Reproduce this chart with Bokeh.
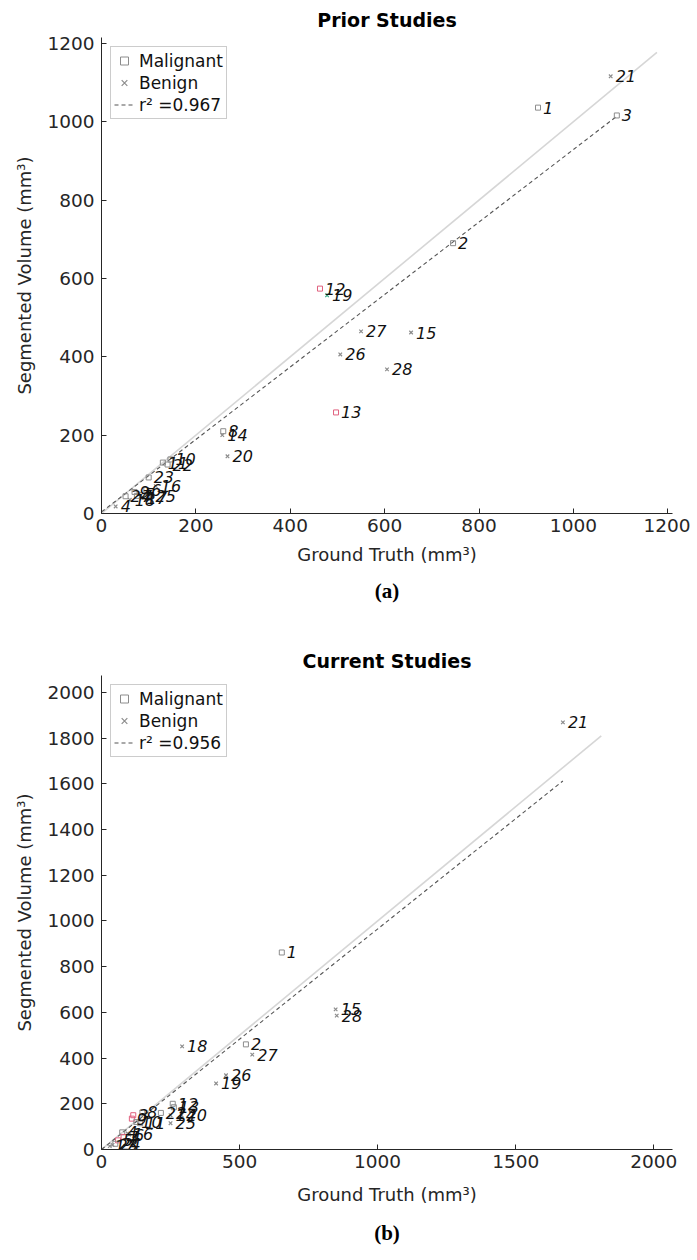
from bokeh.plotting import figure
from bokeh.models import ColumnDataSource, Title, Legend, LegendItem, Range1d, FixedTicker
from bokeh.layouts import column
from bokeh.embed import file_html
from bokeh.resources import INLINE
from bokeh.core.properties import value

# ---------------- (a) Prior Studies ----------------
a_ids = ["1", "2", "3", "4", "5", "6", "7", "8", "9", "10", "11", "12", "13", "14",
         "15", "16", "17", "18", "19", "20", "21", "22", "23", "24", "25", "26", "27", "28"]
a_gt = [925, 745, 1092, 30, 80, 95, 75, 258, 70, 146, 130, 463, 497, 256,
        656, 115, 85, 60, 478, 267, 1079, 140, 100, 51, 104, 506, 550, 605]
a_seg = [1036, 690, 1016, 18, 50, 60, 45, 210, 55, 138, 130, 574, 258, 200,
         462, 70, 40, 35, 557, 146, 1116, 125, 92, 44, 44, 406, 465, 368]
a_type = ["M", "M", "M", "B", "B", "M", "M", "M", "M", "M", "M", "M", "M", "B",
          "B", "B", "B", "B", "B", "B", "B", "M", "M", "M", "B", "B", "B", "B"]
a_col = ["#8c8c8c", "#8c8c8c", "#8c8c8c", "#8c8c8c", "#8c8c8c", "#8c8c8c", "#8c8c8c",
         "#8c8c8c", "#8c8c8c", "#8c8c8c", "#8c8c8c", "#e0607e", "#e0607e", "#8c8c8c",
         "#8c8c8c", "#8c8c8c", "#8c8c8c", "#8c8c8c", "#3cae8c", "#8c8c8c", "#8c8c8c",
         "#8c8c8c", "#8c8c8c", "#8c8c8c", "#8c8c8c", "#8c8c8c", "#8c8c8c", "#8c8c8c"]
a_fit = (0.925, 4.0)          # slope, intercept of dashed fit
a_r2 = "0.967"
a_ident_max = 1177
a_xticks = [0, 200, 400, 600, 800, 1000, 1200]
a_yticks = [0, 200, 400, 600, 800, 1000, 1200]
a_xmax, a_ymax = 1210, 1215

# ---------------- (b) Current Studies ----------------
b_ids = ["1", "2", "3", "4", "5", "6", "7", "8", "9", "10", "11", "12", "13", "14",
         "15", "16", "17", "18", "19", "20", "21", "22", "23", "24", "25", "26", "27", "28"]
b_gt = [653, 523, 115, 75, 60, 100, 80, 148, 110, 126, 140, 258, 262, 250,
        848, 95, 30, 292, 415, 290, 1671, 215, 40, 50, 250, 451, 546, 852]
b_seg = [862, 460, 150, 75, 40, 65, 55, 162, 135, 120, 115, 200, 185, 150,
         613, 70, 15, 451, 289, 150, 1869, 160, 20, 25, 115, 325, 415, 586]
b_type = ["M", "M", "M", "M", "M", "B", "M", "M", "M", "M", "M", "M", "M", "B",
          "B", "B", "B", "B", "B", "B", "B", "M", "B", "M", "B", "B", "B", "B"]
b_col = ["#8c8c8c", "#8c8c8c", "#e0607e", "#8c8c8c", "#e0607e", "#8c8c8c", "#e0607e",
         "#8c8c8c", "#e0607e", "#8c8c8c", "#8c8c8c", "#8c8c8c", "#8c8c8c", "#8c8c8c",
         "#8c8c8c", "#8c8c8c", "#8c8c8c", "#8c8c8c", "#8c8c8c", "#8c8c8c", "#8c8c8c",
         "#8c8c8c", "#8c8c8c", "#8c8c8c", "#8c8c8c", "#8c8c8c", "#8c8c8c", "#8c8c8c"]
b_fit = (0.965, 0.0)
b_r2 = "0.956"
b_ident_max = 1810
b_xticks = [0, 500, 1000, 1500, 2000]
b_yticks = [0, 200, 400, 600, 800, 1000, 1200, 1400, 1600, 1800, 2000]
b_xmax, b_ymax = 2068, 2074

FONT = "DejaVu Sans"
AX = "#262626"


def make_plot(title, caption, ids, gt, seg, typ, col, fit, r2, ident_max,
              xticks, yticks, xmax, ymax, height, top, bottom, title_standoff,
              xlabel_standoff, cap_standoff):
    p = figure(width=690, height=height, output_backend="svg", toolbar_location=None,
               x_range=Range1d(0, xmax), y_range=Range1d(0, ymax),
               min_border_left=101, min_border_right=18, min_border_top=top,
               min_border_bottom=bottom)
    p.outline_line_color = None
    p.grid.visible = False
    p.title.text = title
    p.title.align = "center"
    p.title.text_font = FONT
    p.title.text_font_style = "bold"
    p.title.text_font_size = "19px"
    p.title.text_color = "#000000"
    p.title.standoff = title_standoff

    for ax in (p.xaxis[0], p.yaxis[0]):
        ax.major_tick_in = 5
        ax.major_tick_out = 0
        ax.minor_tick_in = 0
        ax.minor_tick_out = 0
        ax.axis_line_color = AX
        ax.major_tick_line_color = AX
        ax.major_label_text_font = FONT
        ax.major_label_text_font_size = "18.5px"
        ax.major_label_text_color = AX
        ax.axis_label_text_font = FONT
        ax.axis_label_text_font_size = "18px"
        ax.axis_label_text_font_style = "normal"
        ax.axis_label_text_color = AX
    p.xaxis[0].ticker = FixedTicker(ticks=xticks)
    p.yaxis[0].ticker = FixedTicker(ticks=yticks)
    p.xaxis[0].axis_label = "Ground Truth (mm³)"
    p.yaxis[0].axis_label = "Segmented Volume (mm³)"
    p.xaxis[0].major_label_standoff = 5
    p.yaxis[0].major_label_standoff = 7
    p.xaxis[0].axis_label_standoff = xlabel_standoff
    p.yaxis[0].axis_label_standoff = 9

    # identity line and fitted line
    p.line([0, ident_max], [0, ident_max], line_color="#d6d6d6", line_width=1.6)
    xm = max(gt)
    r_fit = p.line([0, xm], [fit[1], fit[0] * xm + fit[1]], line_color="#555555",
                   line_width=1.1, line_dash="4 3")

    mi = [i for i, t in enumerate(typ) if t == "M"]
    bi = [i for i, t in enumerate(typ) if t == "B"]
    src_m = ColumnDataSource(dict(x=[gt[i] for i in mi], y=[seg[i] for i in mi],
                                  c=[col[i] for i in mi]))
    src_b = ColumnDataSource(dict(x=[gt[i] for i in bi], y=[seg[i] for i in bi],
                                  c=[col[i] for i in bi]))
    r_m = p.scatter("x", "y", source=src_m, marker="square", size=5,
                    line_color="c", fill_color=None, line_width=1)
    r_b = p.scatter("x", "y", source=src_b, marker="x", size=5,
                    line_color="c", line_width=1.2)

    src_t = ColumnDataSource(dict(x=gt, y=seg, t=ids))
    p.text("x", "y", text="t", source=src_t, x_offset=5, text_baseline="middle",
           text_font=value(FONT), text_font_style="italic", text_font_size="16px",
           text_color="#111111")

    leg = Legend(items=[LegendItem(label="Malignant", renderers=[r_m], index=0),
                        LegendItem(label="Benign", renderers=[r_b], index=0),
                        LegendItem(label="r² =" + r2, renderers=[r_fit])],
                 location="top_left")
    leg.label_text_font = FONT
    leg.label_text_font_size = "17px"
    leg.label_text_color = "#111111"
    leg.glyph_width = 20
    leg.glyph_height = 21
    leg.label_height = 21
    leg.label_standoff = 5
    leg.spacing = 1
    leg.padding = 3
    leg.margin = 9
    leg.border_line_color = "#999999"
    leg.border_line_width = 1
    leg.background_fill_alpha = 1.0
    p.add_layout(leg)

    cap = Title(text=caption, align="center", text_font="Liberation Serif",
                text_font_style="bold", text_font_size="21px", text_color="#000000",
                standoff=cap_standoff)
    p.add_layout(cap, "below")
    return p


pa = make_plot("Prior Studies", "(a)", a_ids, a_gt, a_seg, a_type, a_col, a_fit, a_r2,
               a_ident_max, a_xticks, a_yticks, a_xmax, a_ymax,
               630, 37, 117, 13, 9, 18)
pb = make_plot("Current Studies", "(b)", b_ids, b_gt, b_seg, b_type, b_col, b_fit, b_r2,
               b_ident_max, b_xticks, b_yticks, b_xmax, b_ymax,
               626, 45, 107, 7, 13, 23)

layout = column(pa, pb, spacing=0)
open("out.html", "w").write(file_html(layout, INLINE))
